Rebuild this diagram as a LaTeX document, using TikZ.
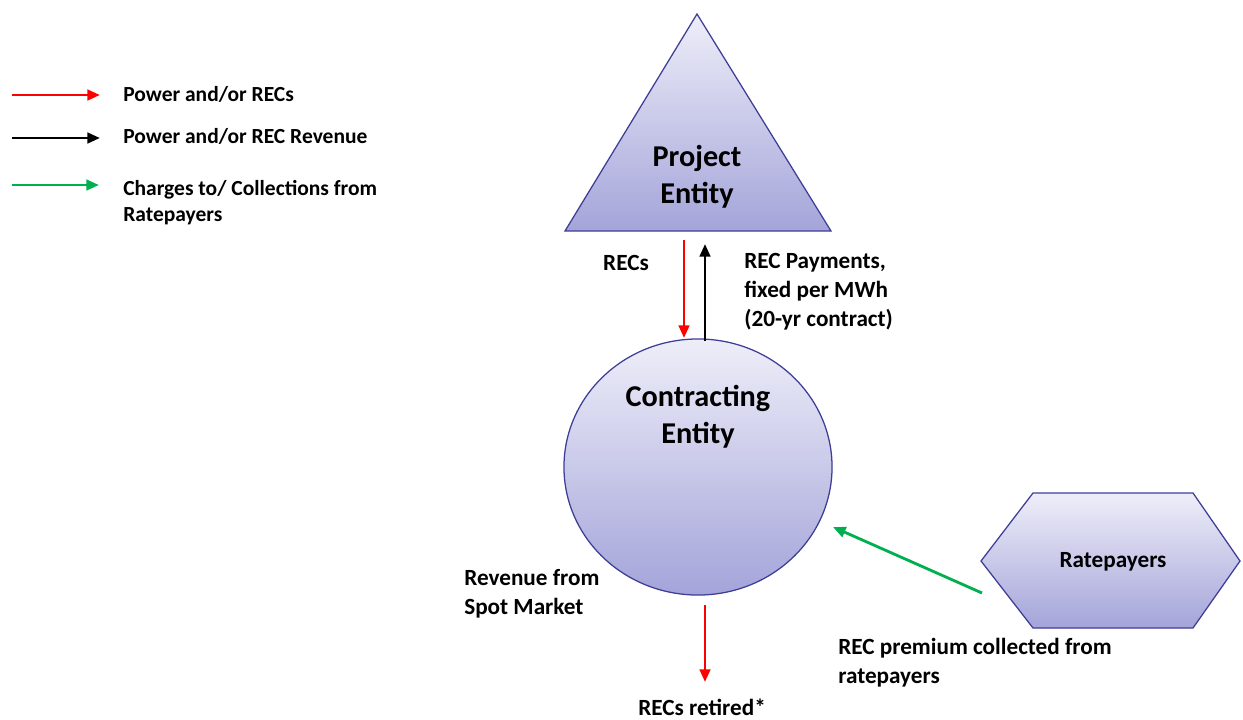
\documentclass[tikz,border=0pt]{standalone}
\usepackage{fontspec}
\setmainfont{Carlito}
\usetikzlibrary{arrows.meta,shapes.geometric}
\definecolor{edgeblue}{RGB}{62,62,150}
\definecolor{filltop}{RGB}{238,238,249}
\definecolor{fillbot}{RGB}{164,164,218}
\definecolor{recred}{RGB}{255,0,0}
\definecolor{rategreen}{RGB}{0,176,80}
\begin{document}
\begin{tikzpicture}[x=0.025cm,y=-0.025cm,
    body/.style={draw=edgeblue,line width=0.9pt,top color=filltop,bottom color=fillbot},
    flow/.style={line width=2pt,-{Triangle[length=9pt,width=7.5pt]}},
    title/.style={font=\fontsize{21.5}{26.3}\selectfont\bfseries,align=center,inner sep=0pt},
    lbl/.style={font=\fontsize{16.5}{20.5}\selectfont\bfseries,align=left,anchor=west,inner sep=0pt},
    key/.style={font=\fontsize{15.3}{18.5}\selectfont\bfseries,align=left,anchor=west,inner sep=0pt}]
    \useasboundingbox (0,0) rectangle (1243,719);

    % Drawing legend
    \coordinate (k1a) at (12,95);  \coordinate (k1b) at (100,95);
    \coordinate (k2a) at (12,138); \coordinate (k2b) at (100,138);
    \coordinate (k3a) at (12,185); \coordinate (k3b) at (99,185);
    \draw [flow,recred] (k1a) -- (k1b);%
    \draw [flow,black] (k2a) -- (k2b);%
    \draw [flow,rategreen] (k3a) -- (k3b);%
    \node [key] (key1) at (123,94) {Power and/or RECs};%
    \node [key] (key2) at (123,136) {Power and/or REC Revenue};%
    \node [key] (key3) at (123,203) {Charges to/ Collections from\\Ratepayers};%

    % Drawing triangle Project Entity
    \path [body] (697,14) -- (831,231) -- (565,231) -- cycle;%
    \node [title] (proj) at (697,177) {Project\\Entity};%

    % Drawing circle Contracting Entity
    \node [ellipse,body,minimum width=6.7cm,minimum height=6.4cm,inner sep=0pt] (ce) at (698,467) {};%
    \node [title] (contr) at (698,417) {Contracting\\Entity};%

    % Drawing hexagon Ratepayers
    \path [body] (981,561) -- (1033,493) -- (1193,493) -- (1240,561) -- (1193,628) -- (1033,628) -- cycle;%
    \node [lbl,anchor=center] (rate) at (1113,562) {Ratepayers};%

    % Drawing arrows RECs / payments
    \coordinate (recA) at (684,240); \coordinate (recB) at (684,338);
    \coordinate (payA) at (705,341); \coordinate (payB) at (705,244);
    \draw [flow,recred] (recA) -- (recB);%
    \draw [flow,black] (payA) -- (payB);%
    \node [lbl,anchor=center] (recs) at (626,263) {RECs};%
    \node [lbl] (pay) at (744,292) {REC Payments,\\fixed per MWh\\(20-yr contract)};%

    % Drawing arrow premium
    \coordinate (premA) at (982,593); \coordinate (premB) at (833,527);
    \draw [flow,rategreen] (premA) -- (premB);%
    \node [lbl] (prem) at (838,663) {REC premium collected from\\ratepayers};%

    % Drawing arrow retired
    \coordinate (retA) at (705,605); \coordinate (retB) at (705,682);
    \draw [flow,recred] (retA) -- (retB);%
    \node [lbl] (ret) at (638,707) {RECs retired*};%
    \node [lbl] (spot) at (464,594) {Revenue from\\Spot Market};%
\end{tikzpicture}
\end{document}
